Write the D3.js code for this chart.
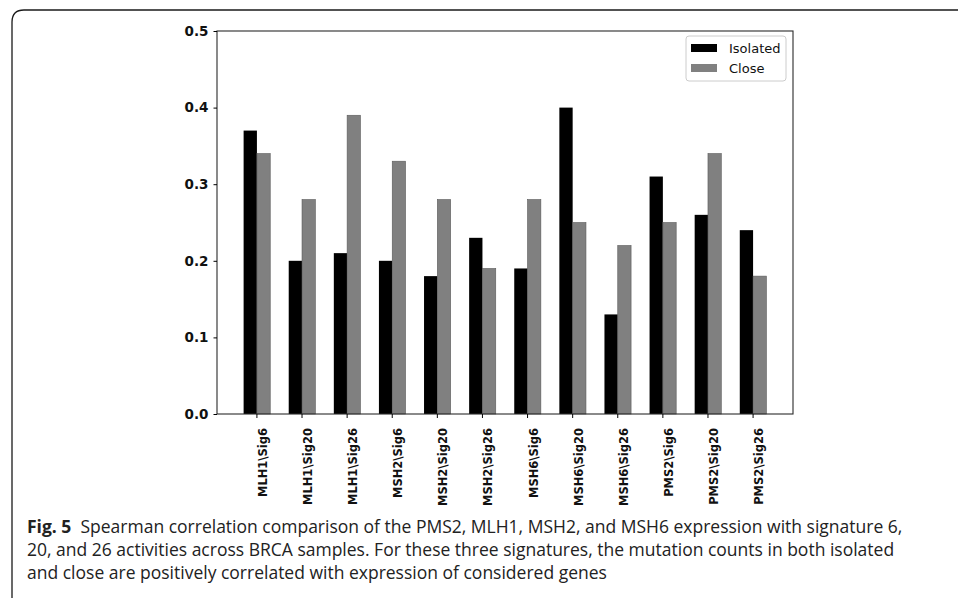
<!DOCTYPE html>
<html>
<head>
<meta charset="utf-8">
<script src="https://cdn.jsdelivr.net/npm/d3@7"></script>
<style>
  body { margin: 0; background: #fff; }
  svg { display: block; }
</style>
</head>
<body>
<div id="chart-area"></div>
<script>
// data
const categories = ["MLH1\\Sig6", "MLH1\\Sig20", "MLH1\\Sig26", "MSH2\\Sig6", "MSH2\\Sig20", "MSH2\\Sig26",
    "MSH6\\Sig6", "MSH6\\Sig20", "MSH6\\Sig26", "PMS2\\Sig6", "PMS2\\Sig20", "PMS2\\Sig26"];
const seriesNames = ["Isolated", "Close"];
const isolated = [0.37, 0.20, 0.21, 0.20, 0.18, 0.23, 0.19, 0.40, 0.13, 0.31, 0.26, 0.24];
const close = [0.34, 0.28, 0.39, 0.33, 0.28, 0.19, 0.28, 0.25, 0.22, 0.25, 0.34, 0.18];
const yTicks = [0.0, 0.1, 0.2, 0.3, 0.4, 0.5];
const captionBold = "Fig. 5";
const captionLines = [
    "Spearman correlation comparison of the PMS2, MLH1, MSH2, and MSH6 expression with signature 6,",
    "20, and 26 activities across BRCA samples. For these three signatures, the mutation counts in both isolated",
    "and close are positively correlated with expression of considered genes"
];

const width = 958, height = 598;
const plot = { left: 217, right: 793, top: 31, bottom: 414 };
const colors = { Isolated: "#000000", Close: "#808080" };

const svg = d3.select("#chart-area")
    .append("svg")
    .attr("width", width)
    .attr("height", height);

// figure frame (rounded top-left corner)
svg.append("path")
    .attr("d", "M12,600 L12,22 Q12,10 24,10 L958,10")
    .attr("fill", "none")
    .attr("stroke", "#1a1a1a")
    .attr("stroke-width", 1.3);

const x = d3.scaleBand()
    .domain(categories)
    .range([plot.left, plot.right])
    .paddingInner(0.41)
    .paddingOuter(0.59);

const xSub = d3.scaleBand()
    .domain(seriesNames)
    .range([0, x.bandwidth()]);

const y = d3.scaleLinear()
    .domain([0, 0.5])
    .range([plot.bottom, plot.top]);

const rows = categories.map((c, i) => ({ cat: c, values: [
    { key: "Isolated", value: isolated[i] },
    { key: "Close", value: close[i] }
]}));

const groups = svg.append("g")
    .selectAll("g")
    .data(rows)
    .join("g")
    .attr("transform", d => "translate(" + x(d.cat) + ",0)");

groups.selectAll("rect")
    .data(d => d.values)
    .join("rect")
    .attr("x", d => xSub(d.key))
    .attr("y", d => y(d.value))
    .attr("width", xSub.bandwidth())
    .attr("height", d => y(0) - y(d.value))
    .attr("fill", d => colors[d.key])
    .attr("stroke", d => d.key === "Close" ? "#5a5a5a" : "none")
    .attr("stroke-width", 0.6);

// axes frame
svg.append("rect")
    .attr("x", plot.left)
    .attr("y", plot.top)
    .attr("width", plot.right - plot.left)
    .attr("height", plot.bottom - plot.top)
    .attr("fill", "none")
    .attr("stroke", "#2a2a2a")
    .attr("stroke-width", 1.1);

const yAxis = svg.append("g")
    .attr("transform", "translate(" + plot.left + ",0)")
    .call(d3.axisLeft(y).tickValues(yTicks).tickFormat(d3.format(".1f")).tickSize(3.5).tickPadding(5));
yAxis.select(".domain").remove();
yAxis.selectAll("text")
    .attr("font-family", "DejaVu Sans")
    .attr("font-weight", "bold")
    .attr("font-size", 13.5)
    .attr("fill", "#111");

const xAxis = svg.append("g")
    .attr("transform", "translate(0," + plot.bottom + ")")
    .call(d3.axisBottom(x).tickSize(4));
xAxis.select(".domain").remove();
xAxis.selectAll("text")
    .attr("transform", "rotate(-90)")
    .attr("text-anchor", "end")
    .attr("x", -14)
    .attr("y", 6)
    .attr("dy", "0.35em")
    .attr("font-family", "DejaVu Sans")
    .attr("font-weight", "bold")
    .attr("font-size", 11.5)
    .attr("fill", "#111");

// legend
const legend = svg.append("g").attr("transform", "translate(686,36)");
legend.append("rect")
    .attr("width", 100)
    .attr("height", 45)
    .attr("rx", 3)
    .attr("fill", "#fff")
    .attr("stroke", "#cccccc");
seriesNames.forEach((name, i) => {
    legend.append("rect")
        .attr("x", 5)
        .attr("y", 8 + i * 20)
        .attr("width", 26)
        .attr("height", 8)
        .attr("fill", colors[name]);
    legend.append("text")
        .attr("x", 43)
        .attr("y", 17 + i * 20)
        .attr("font-family", "DejaVu Sans")
        .attr("font-size", 13)
        .attr("fill", "#111")
        .text(name);
});

// caption
const caption = svg.append("g")
    .attr("font-family", "Open Sans")
    .attr("font-size", 17.5)
    .attr("fill", "#222");
captionLines.forEach((line, i) => {
    const t = caption.append("text")
        .attr("x", 27)
        .attr("y", 533 + i * 23);
    if (i === 0) {
        t.append("tspan").attr("font-weight", "bold").text(captionBold);
        t.append("tspan").text("\u00a0\u00a0" + line);
    } else {
        t.text(line);
    }
});
</script>
</body>
</html>
